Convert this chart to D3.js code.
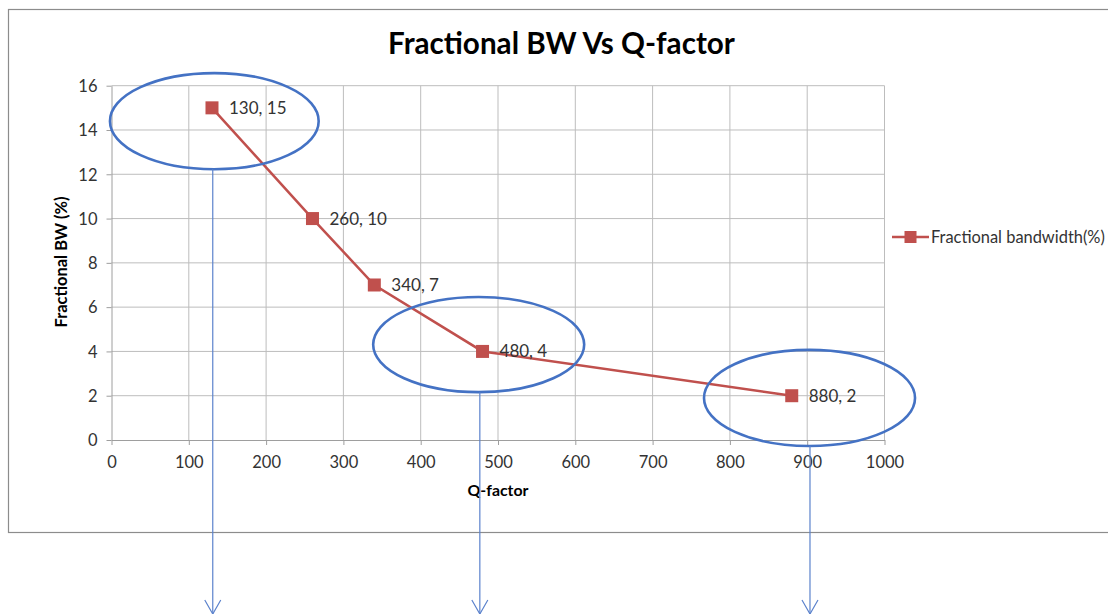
<!DOCTYPE html>
<html><head><meta charset="utf-8">
<script src="https://cdn.jsdelivr.net/npm/d3@7"></script>
<style>
html,body{margin:0;padding:0;background:#fff;}
svg{display:block;font-family:Lato,"Open Sans",sans-serif;}
</style></head>
<body>
<svg id="chart" width="1108" height="614"></svg>
<script>
// ---- data ----
const qFactor = [130, 260, 340, 480, 880];
const fracBW = [15, 10, 7, 4, 2];
const seriesName = "Fractional bandwidth(%)";
const xTicks = [0,100,200,300,400,500,600,700,800,900,1000];
const yTicks = [0,2,4,6,8,10,12,14,16];
const titleText = "Fractional BW Vs Q-factor";
const xTitle = "Q-factor";
const yTitle = "Fractional BW (%)";
// annotation ellipses (data units): centre x, centre y, radius x, radius y
const ellCx = [133, 475, 903];
const ellCy = [14.4, 4.31, 1.9];
const ellRx = [135, 136.5, 136.5];
const ellRy = [2.17, 2.15, 2.17];
const arrowX = [131, 476.5, 903.6];

const svg = d3.select("#chart");
const x = d3.scaleLinear().domain([0,1000]).range([111.5, 884.5]);
const y = d3.scaleLinear().domain([0,16]).range([440, 85.7]);

function fitText(sel, target){
  const w = sel.node().getComputedTextLength();
  const fs = parseFloat(sel.style("font-size"));
  if (w>0) sel.style("font-size",(fs*target/w).toFixed(2)+"px");
}

// chart area border
svg.append("rect").attr("x",8.5).attr("y",9.5).attr("width",1120).attr("height",523)
  .attr("fill","none").attr("stroke","#8c8c8c").attr("stroke-width",1.2);

// gridlines
const grid = svg.append("g");
grid.selectAll("line.v").data(xTicks.filter(d=>d>0)).join("line")
  .attr("x1",d=>x(d)).attr("x2",d=>x(d)).attr("y1",y(0)).attr("y2",y(16))
  .attr("stroke","#bdbdbd").attr("stroke-width",1);
grid.selectAll("line.h").data(yTicks.filter(d=>d>0)).join("line")
  .attr("y1",d=>y(d)).attr("y2",d=>y(d)).attr("x1",x(0)).attr("x2",x(1000))
  .attr("stroke","#bdbdbd").attr("stroke-width",1);

// axes
const xAxis = svg.append("g").attr("transform",`translate(0,${y(0)})`)
  .call(d3.axisBottom(x).tickValues(xTicks).tickFormat(d3.format("d")).tickSize(5).tickSizeOuter(0).tickPadding(11));
const yAxis = svg.append("g").attr("transform",`translate(${x(0)},0)`)
  .call(d3.axisLeft(y).tickValues(yTicks).tickFormat(d3.format("d")).tickSize(5).tickSizeOuter(0).tickPadding(9));
[xAxis,yAxis].forEach(a=>{
  a.select(".domain").attr("stroke","#9e9e9e");
  a.selectAll(".tick line").attr("stroke","#9e9e9e");
  a.selectAll(".tick text").attr("fill","#333").style("font-size","16.5px")
    .style("font-family","Lato,'Open Sans',sans-serif");
});
yAxis.selectAll(".tick text").attr("dy","0.35em");

// title
const t = svg.append("text").attr("x",561.5).attr("y",54).attr("text-anchor","middle")
  .style("font-size","28px").style("font-weight","bold").attr("fill","#000").text(titleText);
fitText(t, 347);

// axis titles
const xt = svg.append("text").attr("x",498).attr("y",496).attr("text-anchor","middle")
  .style("font-size","15px").style("font-weight","bold").attr("fill","#000").text(xTitle);
fitText(xt, 61);
const yt = svg.append("text").attr("transform","translate(67,262) rotate(-90)").attr("text-anchor","middle")
  .style("font-size","15px").style("font-weight","bold").attr("fill","#000").text(yTitle);
fitText(yt, 131);

// series
const pts = qFactor.map((q,i)=>({q, v:fracBW[i]}));
const red = "#c0504d";
svg.append("path").datum(pts)
  .attr("d", d3.line().x(d=>x(d.q)).y(d=>y(d.v)))
  .attr("fill","none").attr("stroke",red).attr("stroke-width",2.5);
const ms = 13;
svg.selectAll("rect.m").data(pts).join("rect")
  .attr("x",d=>x(d.q)-ms/2).attr("y",d=>y(d.v)-ms/2).attr("width",ms).attr("height",ms)
  .attr("fill",red);
svg.selectAll("text.lbl").data(pts).join("text")
  .attr("x",d=>x(d.q)+17).attr("y",d=>y(d.v)).attr("dy","0.35em")
  .style("font-size","17px").attr("fill","#333").text(d=>`${d.q}, ${d.v}`);

// legend
const lg = svg.append("g").attr("transform","translate(892,237)");
lg.append("line").attr("x1",0).attr("x2",37).attr("y1",0).attr("y2",0).attr("stroke",red).attr("stroke-width",2.5);
lg.append("rect").attr("x",18.5-6).attr("y",-6).attr("width",12).attr("height",12).attr("fill",red);
const lt = lg.append("text").attr("x",39).attr("y",0).attr("dy","0.35em").style("font-size","17px")
  .attr("fill","#333").text(seriesName);
fitText(lt, 174);

// annotations: ellipses and arrows
const blue = "#4472c4";
const ann = ellCx.map((cx,i)=>({cx, cy:ellCy[i], rx:ellRx[i], ry:ellRy[i], ax:arrowX[i]}));
svg.selectAll("ellipse.a").data(ann).join("ellipse")
  .attr("cx",d=>x(d.cx)).attr("cy",d=>y(d.cy))
  .attr("rx",d=>x(d.rx)-x(0)).attr("ry",d=>y(0)-y(d.ry))
  .attr("fill","none").attr("stroke",blue).attr("stroke-width",2.6);
const arrowBlue = "#5b82cc";
svg.selectAll("line.ar").data(ann).join("line")
  .attr("x1",d=>x(d.ax)).attr("x2",d=>x(d.ax))
  .attr("y1",d=>y(d.cy)+(y(0)-y(d.ry))).attr("y2",614)
  .attr("stroke",arrowBlue).attr("stroke-width",1.2);
svg.selectAll("path.ah").data(ann).join("path")
  .attr("d",d=>`M${x(d.ax)-8},600L${x(d.ax)},614L${x(d.ax)+8},600`)
  .attr("fill","none").attr("stroke",arrowBlue).attr("stroke-width",1.2);
</script>
</body></html>
